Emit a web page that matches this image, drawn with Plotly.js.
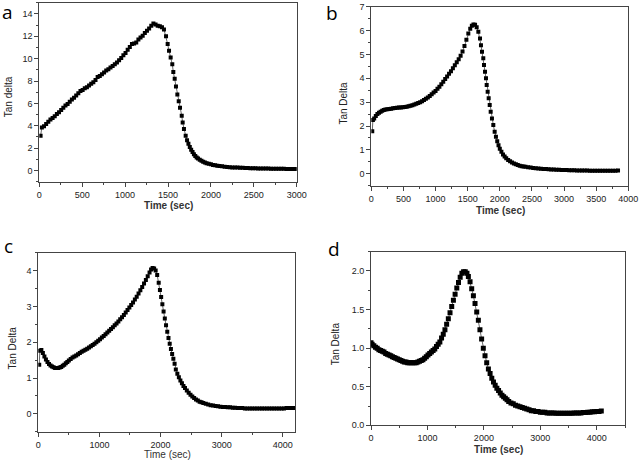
<!DOCTYPE html>
<html><head><meta charset="utf-8">
<script src="https://cdn.plot.ly/plotly-3.0.1.min.js"></script>
<style>html,body{margin:0;padding:0;background:#fff}#chart{width:640px;height:462px}</style>
</head><body><div id="chart"></div>
<script>
// Panel a
const timeA = [15,30,55,80,105,130,155,180,205,230,255,280,305,330,355,380,405,430,455,480,505,530,555,580,605,630,655,680,705,730,755,780,805,830,855,880,905,930,955,980,1005,1030,1055,1080,1105,1130,1155,1180,1205,1230,1255,1280,1305,1330,1355,1380,1405,1430,1453,1477,1496,1512,1531,1550,1562,1578,1593,1609,1625,1640,1660,1671,1686,1706,1722,1738,1754,1770,1786,1802,1818,1834,1850,1870,1890,1910,1930,1950,1975,2000,2025,2050,2075,2100,2130,2160,2190,2220,2250,2280,2310,2340,2370,2400,2430,2460,2490,2520,2550,2580,2610,2640,2670,2700,2730,2760,2790,2820,2850,2880,2910,2940,2970,3000];
const tanA = [3.1,3.85,3.95,4.15,4.35,4.55,4.7,4.85,5.05,5.2,5.4,5.6,5.8,5.95,6.15,6.35,6.5,6.7,6.9,7.1,7.2,7.35,7.45,7.6,7.75,7.9,8.1,8.35,8.45,8.6,8.75,8.95,9.05,9.2,9.35,9.5,9.65,9.85,10.05,10.3,10.5,10.8,11.05,11.3,11.35,11.45,11.7,11.9,12.05,12.3,12.5,12.7,12.95,13.15,13.05,12.95,12.9,12.8,12.6,12.0,11.3,10.7,10.1,9.5,8.8,8.2,7.5,6.8,6.2,5.6,4.9,4.3,3.7,3.1,2.7,2.4,2.1,1.85,1.65,1.45,1.3,1.17,1.07,0.96,0.87,0.79,0.72,0.66,0.6,0.55,0.5,0.46,0.43,0.4,0.37,0.34,0.32,0.3,0.28,0.27,0.26,0.25,0.24,0.23,0.22,0.21,0.2,0.2,0.19,0.18,0.18,0.17,0.17,0.16,0.16,0.16,0.15,0.15,0.15,0.14,0.14,0.14,0.14,0.14];
// Panel b
const timeB = [15,25,45,70,95,120,145,170,195,220,250,280,310,340,370,400,430,460,490,520,550,580,610,640,670,700,730,760,790,820,850,880,910,940,970,1000,1030,1060,1090,1120,1150,1180,1210,1240,1270,1300,1330,1360,1390,1420,1450,1480,1510,1540,1565,1590,1615,1640,1666,1692,1707,1723,1743,1754,1770,1785,1796,1811,1827,1843,1858,1878,1899,1920,1940,1960,1980,2000,2025,2050,2075,2100,2130,2160,2190,2220,2250,2280,2310,2340,2370,2400,2440,2480,2520,2560,2600,2640,2680,2720,2760,2800,2840,2880,2920,2960,3000,3040,3080,3120,3160,3200,3240,3280,3320,3360,3400,3440,3480,3520,3560,3600,3640,3680,3720,3760,3800,3840];
const tanB = [1.78,2.25,2.32,2.42,2.5,2.56,2.6,2.64,2.67,2.69,2.7,2.71,2.72,2.74,2.76,2.77,2.78,2.78,2.79,2.8,2.81,2.83,2.85,2.87,2.9,2.93,2.96,3.0,3.04,3.09,3.14,3.2,3.26,3.33,3.4,3.47,3.56,3.65,3.75,3.86,3.97,4.08,4.19,4.3,4.42,4.55,4.67,4.8,4.95,5.12,5.35,5.62,5.88,6.08,6.2,6.25,6.24,6.14,5.95,5.67,5.39,5.11,4.84,4.56,4.27,4.0,3.72,3.44,3.16,2.88,2.6,2.32,2.04,1.76,1.55,1.36,1.2,1.05,0.92,0.81,0.72,0.65,0.58,0.52,0.47,0.43,0.4,0.37,0.34,0.32,0.3,0.29,0.27,0.26,0.24,0.23,0.22,0.21,0.2,0.2,0.19,0.18,0.18,0.17,0.17,0.16,0.16,0.16,0.15,0.15,0.15,0.14,0.14,0.14,0.14,0.14,0.13,0.13,0.13,0.13,0.13,0.13,0.13,0.13,0.13,0.13,0.13,0.14];
// Panel c
const timeC = [15,25,50,75,100,125,150,175,200,225,250,275,300,325,350,375,400,425,450,475,500,530,560,590,620,650,680,710,740,770,800,830,860,890,920,950,980,1010,1040,1070,1100,1130,1160,1190,1220,1250,1280,1310,1340,1370,1400,1430,1460,1490,1520,1550,1580,1610,1640,1670,1700,1730,1760,1790,1820,1845,1870,1895,1920,1945,1970,1990,2010,2030,2050,2070,2090,2110,2130,2150,2170,2190,2210,2230,2250,2275,2300,2325,2350,2375,2400,2430,2460,2490,2520,2550,2580,2610,2640,2670,2700,2740,2780,2820,2860,2900,2940,2980,3020,3060,3100,3140,3180,3220,3260,3300,3340,3380,3420,3460,3500,3540,3580,3620,3660,3700,3740,3780,3820,3860,3900,3940,3980,4020,4060,4100,4140,4180];
const tanC = [1.37,1.76,1.78,1.7,1.6,1.52,1.45,1.39,1.35,1.32,1.3,1.28,1.28,1.28,1.29,1.31,1.34,1.37,1.41,1.45,1.49,1.53,1.57,1.6,1.63,1.66,1.7,1.73,1.76,1.79,1.82,1.85,1.89,1.92,1.96,2.0,2.04,2.08,2.13,2.17,2.22,2.27,2.32,2.37,2.42,2.47,2.52,2.58,2.64,2.7,2.76,2.83,2.9,2.97,3.04,3.11,3.19,3.27,3.36,3.45,3.54,3.64,3.74,3.84,3.95,4.03,4.07,4.06,4.0,3.88,3.66,3.46,3.26,3.06,2.86,2.66,2.47,2.29,2.12,1.96,1.81,1.67,1.54,1.4,1.24,1.12,1.02,0.93,0.85,0.78,0.72,0.65,0.59,0.53,0.48,0.44,0.4,0.37,0.34,0.32,0.3,0.28,0.26,0.24,0.23,0.22,0.21,0.2,0.19,0.19,0.18,0.18,0.17,0.17,0.16,0.16,0.16,0.15,0.15,0.15,0.15,0.15,0.15,0.15,0.15,0.15,0.15,0.15,0.15,0.15,0.15,0.15,0.15,0.15,0.16,0.16,0.16,0.16];
// Panel d
const timeD = [0,20,50,80,110,140,170,200,230,260,290,320,350,380,410,440,470,500,530,560,590,620,650,680,710,740,770,800,830,860,890,920,950,980,1010,1040,1070,1100,1130,1160,1190,1220,1250,1280,1310,1340,1370,1400,1430,1460,1490,1520,1550,1580,1610,1640,1670,1700,1725,1755,1784,1814,1843,1873,1902,1930,1960,1990,2020,2050,2080,2110,2140,2170,2200,2230,2260,2290,2320,2350,2380,2410,2440,2480,2520,2560,2600,2640,2680,2720,2760,2800,2840,2880,2920,2960,3000,3040,3080,3120,3160,3200,3240,3280,3320,3360,3400,3440,3480,3520,3560,3600,3640,3680,3720,3760,3800,3840,3880,3920,3960,4000,4040,4080];
const tanD = [1.07,1.05,1.03,1.01,1.0,0.98,0.97,0.96,0.95,0.93,0.92,0.91,0.9,0.89,0.88,0.87,0.86,0.85,0.84,0.83,0.82,0.82,0.81,0.81,0.81,0.81,0.81,0.81,0.82,0.83,0.84,0.85,0.87,0.89,0.91,0.93,0.95,0.97,0.99,1.02,1.05,1.08,1.13,1.18,1.24,1.31,1.38,1.46,1.54,1.62,1.7,1.78,1.85,1.92,1.97,1.99,1.99,1.97,1.93,1.86,1.77,1.68,1.58,1.47,1.36,1.24,1.12,1.0,0.9,0.81,0.73,0.67,0.61,0.56,0.52,0.48,0.45,0.42,0.39,0.37,0.35,0.33,0.31,0.29,0.28,0.26,0.25,0.24,0.23,0.22,0.21,0.2,0.19,0.19,0.18,0.18,0.17,0.17,0.17,0.16,0.16,0.16,0.16,0.155,0.155,0.155,0.155,0.155,0.155,0.155,0.155,0.16,0.16,0.16,0.16,0.165,0.165,0.17,0.17,0.175,0.175,0.18,0.18,0.185];

const panelLabels = ['a','b','c','d'];
const yTitles = ['Tan delta','Tan Delta','Tan Delta','Tan Delta'];
const xTitle = 'Time (sec)';

const tickFont = {family:'Liberation Sans, Arial, sans-serif', size:9, color:'#222'};
function trace(x, y, ax, size){
  return {x:x, y:y, xaxis:'x'+ax, yaxis:'y'+ax, type:'scatter', mode:'lines+markers',
    line:{color:'#000', width:0.6}, marker:{symbol:'square', size:size, color:'#000'},
    showlegend:false, hoverinfo:'skip'};
}
function axis(domain, range, dtick, minor, anchor, fmt){
  return {domain:domain, range:range, dtick:dtick, tick0:0, anchor:anchor,
    showgrid:false, zeroline:false, showline:true, mirror:true, linecolor:'#444', linewidth:1,
    ticks:'outside', ticklen:4, tickwidth:1, tickcolor:'#444', tickfont:tickFont,
    tickformat:fmt||'', minor:{dtick:minor, tick0:0, ticks:'outside', ticklen:2, tickcolor:'#444', showgrid:false}};
}
const data = [trace(timeA,tanA,'',4), trace(timeB,tanB,'2',4), trace(timeC,tanC,'3',4), trace(timeD,tanD,'4',5)];
data[0].xaxis='x'; data[0].yaxis='y';

const px = v=>v/640, py = v=>1-v/462;
const layout = {
  width:640, height:462, margin:{l:0,r:0,t:0,b:0}, paper_bgcolor:'#fff', plot_bgcolor:'#fff',
  xaxis: axis([px(39.3),px(296.7)],[0,3000],500,250,'y'),
  yaxis: axis([py(181.7),py(2.7)],[-1,15],2,1,'x'),
  xaxis2: axis([px(371.3),px(628.3)],[0,4000],500,250,'y2'),
  yaxis2: axis([py(185.7),py(6.7)],[-0.5,7],1,0.5,'x2'),
  xaxis3: axis([px(38.3),px(295)],[0,4200],1000,500,'y3'),
  yaxis3: axis([py(431.7),py(252.7)],[-0.5,4.5],1,0.5,'x3'),
  xaxis4: axis([px(371),px(625)],[0,4500],1000,500,'y4'),
  yaxis4: axis([py(425.3),py(251.7)],[0,2.25],0.5,0.25,'x4','.1f'),
  annotations: []
};
const letterPos = [[7,12],[332,13],[8,246],[334,249]];
const yTitlePos = [[8.5,96.7],[343.3,103.3],[12.7,347.7],[335,344.3]];
const xTitlePos = [[168,205.7],[500,210.7],[167,454.5],[498,449.3]];
for(let i=0;i<4;i++){
  layout.annotations.push({text:panelLabels[i], xref:'paper', yref:'paper', x:px(letterPos[i][0]), y:py(letterPos[i][1]),
    xanchor:'center', yanchor:'middle', showarrow:false, font:{family:'Open Sans, sans-serif', size:19, color:'#000'}});
  layout.annotations.push({text:yTitles[i], xref:'paper', yref:'paper', x:px(yTitlePos[i][0]), y:py(yTitlePos[i][1]),
    xanchor:'center', yanchor:'middle', textangle:-90, showarrow:false, font:{family:'Liberation Sans, Arial, sans-serif', size:10, color:'#222'}});
  layout.annotations.push({text:(i===2?xTitle:'<b>'+xTitle+'</b>'), xref:'paper', yref:'paper', x:px(xTitlePos[i][0]), y:py(xTitlePos[i][1]),
    xanchor:'center', yanchor:'middle', showarrow:false, font:{family:'Liberation Sans, Arial, sans-serif', size:10, color:'#333'}});
}
Plotly.newPlot('chart', data, layout, {staticPlot:true, displayModeBar:false});
</script></body></html>
